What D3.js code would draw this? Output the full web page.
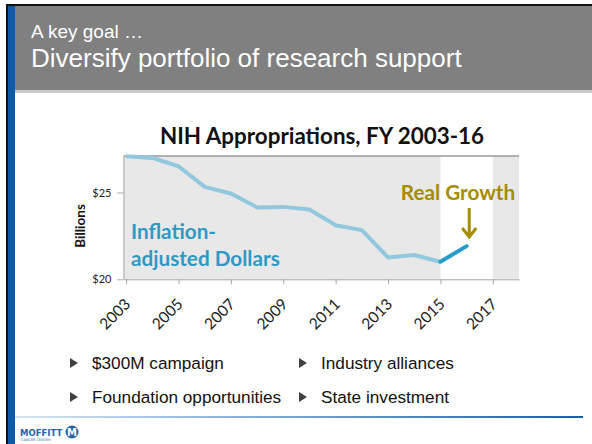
<!DOCTYPE html>
<html lang="en">
<head>
<meta charset="UTF-8">
<script src="https://d3js.org/d3.v7.min.js"></script>
<style>
  html, body { margin: 0; padding: 0; background: #fff; }
  svg { display: block; }
  .hdr { font-family: "Liberation Sans", Arial, sans-serif; fill: #fff; }
  .bul { font-family: "Liberation Sans", Arial, sans-serif; font-size: 17.2px; fill: #111; }
  .cal { font-family: Lato, "Open Sans", sans-serif; }
  .axis path, .axis line { stroke: #a6a6a6; }
  .axis text { font-family: Lato, sans-serif; fill: #222; }
</style>
</head>
<body>
<svg width="592" height="444"></svg>
<script>
// NIH appropriations, inflation-adjusted, billions of dollars
const years = [2003, 2004, 2005, 2006, 2007, 2008, 2009, 2010, 2011, 2012, 2013, 2014, 2015];
const realValues = [27.09, 26.99, 26.51, 25.32, 24.94, 24.14, 24.17, 24.02, 23.11, 22.83, 21.26, 21.40, 21.01];
const growthYears = [2015, 2016];
const growthValues = [21.01, 21.91];
const yTicks = [20, 25];
const xTicks = [2003, 2005, 2007, 2009, 2011, 2013, 2015, 2017];
const bullets = [
  ["$300M campaign", "Industry alliances"],
  ["Foundation opportunities", "State investment"]
];

const svg = d3.select("svg");

// slide frame
svg.append("rect").attr("x", 6).attr("y", 4).attr("width", 586).attr("height", 2).attr("fill", "#111");
svg.append("rect").attr("x", 6).attr("y", 4).attr("width", 2).attr("height", 440).attr("fill", "#111");
svg.append("rect").attr("x", 8).attr("y", 6).attr("width", 7).attr("height", 438).attr("fill", "#0d5aa7");

// header band
svg.append("rect").attr("x", 15).attr("y", 89).attr("width", 577).attr("height", 4).attr("fill", "#c8c8c8");
svg.append("rect").attr("x", 15).attr("y", 6).attr("width", 577).attr("height", 84).attr("fill", "#808080");
svg.append("text").attr("class", "hdr").attr("x", 31).attr("y", 38)
  .style("font-size", "19px").text("A key goal \u2026");
svg.append("text").attr("class", "hdr").attr("x", 31).attr("y", 67)
  .style("font-size", "26px").text("Diversify portfolio of research support");

// chart
const x = d3.scaleLinear().domain([2002.9, 2018]).range([123.5, 519]);
const y = d3.scaleLinear().domain([20, 27.1]).range([279.3, 156]);

svg.append("rect").attr("x", x(2002.9)).attr("y", y(27.1))
  .attr("width", x(2018) - x(2002.9)).attr("height", y(20) - y(27.1)).attr("fill", "#e8e8e8");
svg.append("rect").attr("x", x(2015)).attr("y", y(27.1))
  .attr("width", x(2017) - x(2015)).attr("height", y(20) - y(27.1)).attr("fill", "#fff");
svg.append("line").attr("x1", x(2002.9)).attr("x2", x(2018)).attr("y1", y(27.1)).attr("y2", y(27.1))
  .attr("stroke", "#9a9a9a").attr("stroke-width", 1.5);

svg.append("g").attr("class", "axis")
  .attr("transform", `translate(${x(2002.9)},0)`)
  .call(d3.axisLeft(y).tickValues(yTicks).tickFormat(d => "$" + d).tickSize(6).tickSizeOuter(0))
  .call(g => g.selectAll("text").style("font-size", "11px").attr("dx", "-3px"));

const xAxis = svg.append("g").attr("class", "axis")
  .attr("transform", `translate(0,${y(20)})`)
  .call(d3.axisBottom(x).tickValues(xTicks).tickFormat(d3.format("d")).tickSize(5).tickSizeOuter(0));
xAxis.selectAll("text")
  .style("font-size", "15.5px")
  .attr("text-anchor", "end")
  .attr("x", 0).attr("y", 0).attr("dy", "0.35em")
  .attr("transform", "translate(1,22) rotate(-45)");

const line = d3.line().x(d => x(d[0])).y(d => y(d[1]));
svg.append("path").datum(d3.zip(years, realValues)).attr("d", line)
  .attr("fill", "none").attr("stroke", "#92c8dd").attr("stroke-width", 4).attr("stroke-linejoin", "round");
svg.append("path").datum(d3.zip(growthYears, growthValues)).attr("d", line)
  .attr("fill", "none").attr("stroke", "#289ccb").attr("stroke-width", 4).attr("stroke-linecap", "round");

// titles / annotations
svg.append("text").attr("class", "cal").attr("x", 322).attr("y", 144)
  .attr("text-anchor", "middle").style("font-size", "22.4px").style("font-weight", "bold").attr("fill", "#111")
  .text("NIH Appropriations, FY 2003-16");
svg.append("text").attr("class", "cal").attr("transform", "translate(85,226) rotate(-90)")
  .attr("text-anchor", "middle").style("font-size", "13.5px").style("font-weight", "bold").attr("fill", "#111")
  .text("Billions");
svg.append("text").attr("class", "cal").attr("x", 131).attr("y", 239)
  .style("font-size", "20.7px").style("font-weight", "bold").attr("fill", "#2e9ac4").text("Inflation-");
svg.append("text").attr("class", "cal").attr("x", 131).attr("y", 266)
  .style("font-size", "20.7px").style("font-weight", "bold").attr("fill", "#2e9ac4").text("adjusted Dollars");
svg.append("text").attr("class", "cal").attr("x", 458).attr("y", 200).attr("text-anchor", "middle")
  .style("font-size", "20.7px").style("font-weight", "bold").attr("fill", "#a38c00").text("Real Growth");
const ax = x(2016.1);
svg.append("line").attr("x1", ax).attr("x2", ax).attr("y1", 208).attr("y2", 236)
  .attr("stroke", "#a38c00").attr("stroke-width", 3);
svg.append("path").attr("d", `M${ax - 7},${228} L${ax},${237} L${ax + 7},${228}`)
  .attr("fill", "none").attr("stroke", "#a38c00").attr("stroke-width", 3);

// bullets
const colX = [70, 299];
bullets.forEach((row, r) => {
  row.forEach((txt, c) => {
    const cy = 363 + r * 34;
    svg.append("path")
      .attr("d", `M${colX[c]},${cy - 5} L${colX[c] + 8},${cy} L${colX[c]},${cy + 5}Z`)
      .attr("fill", "#404040");
    svg.append("text").attr("class", "bul").attr("x", colX[c] + 22).attr("y", cy + 6).text(txt);
  });
});

// footer line
const grad = svg.append("defs").append("linearGradient").attr("id", "fg");
grad.append("stop").attr("offset", "0%").attr("stop-color", "#d4e6f4");
grad.append("stop").attr("offset", "100%").attr("stop-color", "#1a5ea8");
svg.append("rect").attr("x", 15).attr("y", 416).attr("width", 568).attr("height", 2).attr("fill", "url(#fg)");

// logo
svg.append("text").attr("x", 20).attr("y", 436).attr("fill", "#2a64a8")
  .style("font-family", "'DejaVu Sans', sans-serif").style("font-size", "8.5px").style("font-weight", "bold")
  .text("MOFFITT");
svg.append("text").attr("x", 21).attr("y", 441).attr("fill", "#2a64a8")
  .style("font-family", "'DejaVu Sans', sans-serif").style("font-size", "3.5px").text("CANCER CENTER");
svg.append("circle").attr("cx", 72).attr("cy", 432).attr("r", 6.5).attr("fill", "#2a64a8");
svg.append("text").attr("x", 72).attr("y", 435.5).attr("text-anchor", "middle").attr("fill", "#fff")
  .style("font-family", "'DejaVu Sans', sans-serif").style("font-size", "10px").style("font-weight", "bold").text("M");
</script>
</body>
</html>
